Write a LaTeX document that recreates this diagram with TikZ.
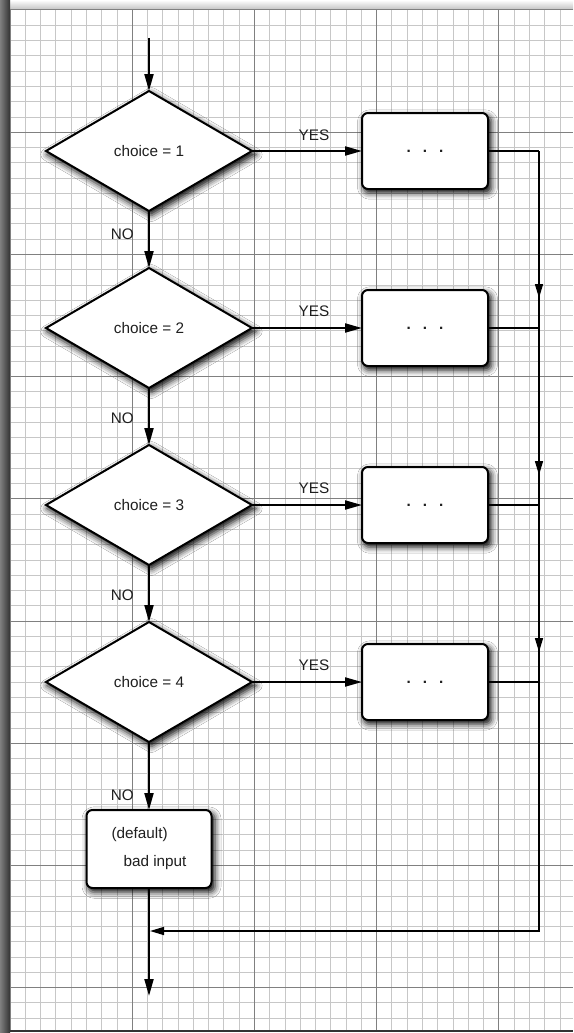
\documentclass[tikz,border=0pt]{standalone}
\usepackage{fontspec}
\setmainfont{Liberation Sans}
\usetikzlibrary{shapes.geometric,arrows.meta,shadows.blur}
\begin{document}
\begin{tikzpicture}[x=1pt,y=-1pt,
  lbl/.style={font=\fontsize{15.3}{18}\selectfont, text=black!88, inner sep=0pt},
  shd/.style={blur shadow={shadow xshift=2.5pt, shadow yshift=-3.5pt, shadow blur radius=6pt, shadow opacity=95, shadow scale=1.015}},
  dia/.style={diamond, draw=black, line width=2pt, fill=white, minimum width=206pt, minimum height=120pt, inner sep=0pt, outer sep=0pt, shd, font=\fontsize{15.3}{18}\selectfont, text=black!88},
  stepbox/.style={rectangle, rounded corners=6pt, draw=black, line width=2pt, fill=white, minimum width=126pt, minimum height=76pt, outer sep=0pt, shd, font=\fontsize{15.3}{18}\selectfont, text=black!88},
  mainarrow/.style={line width=2pt, -{Triangle[length=17pt,width=9pt]}},
  thinline/.style={line width=1.5pt},
  thinarrow/.style={line width=1.5pt, -{Triangle[length=14pt,width=8pt]}},
  minorgrid/.style={line width=0.8pt, draw=black!22},
  majorgrid/.style={line width=1pt, draw=black!50}
]
\useasboundingbox (0,0) rectangle (573,1033);
% paper background
\fill[white] (0,0) rectangle (573,1033);
\shade[top color=white, bottom color=black!25] (0,0) rectangle (573,10);
\shade[left color=black!50, right color=black!80] (0,0) rectangle (10,1033);
\fill[white] (10,10) rectangle (573,1030);
% grid
\foreach \i in {1,...,37} {\draw[minorgrid] ({10+15.275*\i},10) -- ({10+15.275*\i},1030);}
\foreach \i in {1,...,66} {\draw[minorgrid] (10,{10+15.275*\i}) -- (573,{10+15.275*\i});}
\foreach \i in {0,...,4} {\draw[majorgrid] ({10+122.2*\i},10) -- ({10+122.2*\i},1030);}
\foreach \i in {0,...,8} {\draw[majorgrid] (10,{10+122.2*\i}) -- (573,{10+122.2*\i});}
\draw[line width=2pt, black!80] (10,1031) -- (573,1031);

% nodes
\coordinate (start) at (149,38);
\node[dia] (d1) at (149,151) {choice = 1};
\node[dia] (d2) at (149,328) {choice = 2};
\node[dia] (d3) at (149,505) {choice = 3};
\node[dia] (d4) at (149,682) {choice = 4};
\node[stepbox] (b1) at (425,151) {\textbf{.\hspace{12pt}.\hspace{12pt}.}};
\node[stepbox] (b2) at (425,328) {\textbf{.\hspace{12pt}.\hspace{12pt}.}};
\node[stepbox] (b3) at (425,505) {\textbf{.\hspace{12pt}.\hspace{12pt}.}};
\node[stepbox] (b4) at (425,682) {\textbf{.\hspace{12pt}.\hspace{12pt}.}};
\node[stepbox, minimum width=125pt, minimum height=78pt, align=left, inner xsep=0pt] (dflt) at (149,849) {(default)\\[10pt]\hspace*{12pt}bad input};
\coordinate (end) at (149,996);
\coordinate (r1) at (539,151);
\coordinate (r2) at (539,328);
\coordinate (r3) at (539,505);
\coordinate (r4) at (539,682);
\coordinate (a2) at (539,298);
\coordinate (a3) at (539,475);
\coordinate (a4) at (539,652);
\coordinate (rb) at (539,931);
\coordinate (m) at (150,931);

% connectors
\draw[mainarrow] (start) -- (d1.north);
\draw[mainarrow] (d1.south) -- (d2.north);
\draw[mainarrow] (d2.south) -- (d3.north);
\draw[mainarrow] (d3.south) -- (d4.north);
\draw[mainarrow] (d4.south) -- (dflt.north);
\draw[mainarrow] (dflt.south) -- (end);
\draw[mainarrow] (d1.east) -- (b1.west);
\draw[mainarrow] (d2.east) -- (b2.west);
\draw[mainarrow] (d3.east) -- (b3.west);
\draw[mainarrow] (d4.east) -- (b4.west);
\draw[thinline] (b1.east) -- (r1);
\draw[thinline] (b2.east) -- (r2);
\draw[thinline] (b3.east) -- (r3);
\draw[thinline] (b4.east) -- (r4);
\draw[thinarrow] (r1) -- (rb) -- (m);
\draw[thinarrow] (r1) -- (a2);
\draw[thinarrow] (r2) -- (a3);
\draw[thinarrow] (r3) -- (a4);

% labels
\node[lbl] (y1) at (314,135) {YES};
\node[lbl] (y2) at (314,311) {YES};
\node[lbl] (y3) at (314,488) {YES};
\node[lbl] (y4) at (314,665) {YES};
\node[lbl, anchor=east] (n1) at (134,234) {NO};
\node[lbl, anchor=east] (n2) at (134,418) {NO};
\node[lbl, anchor=east] (n3) at (134,595) {NO};
\node[lbl, anchor=east] (n4) at (134,795) {NO};
\end{tikzpicture}
\end{document}
